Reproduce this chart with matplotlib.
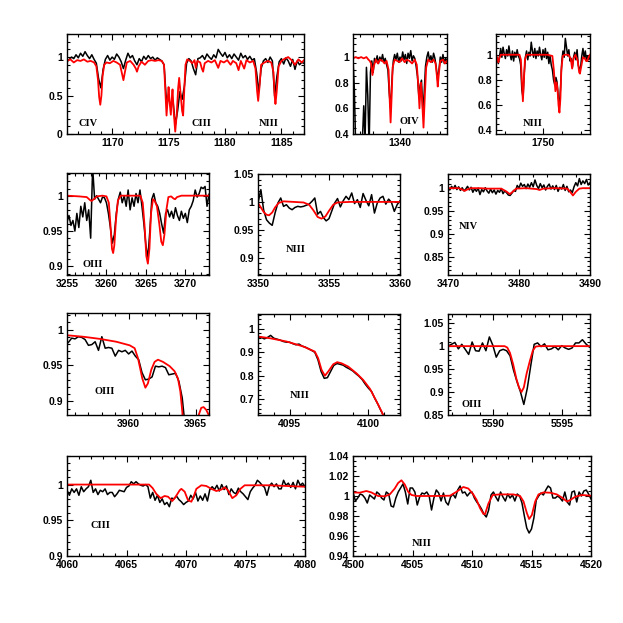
import numpy as np
import matplotlib.pyplot as plt
from matplotlib.ticker import MultipleLocator, FuncFormatter

# ---------------- observed spectra (black), evenly sampled from lo to hi ----------------
uv1175_obs = [0.94, 0.97, 1.00, 0.98, 1.03, 0.99, 1.05, 1.01, 1.07, 1.02,
              0.98, 1.03, 0.97, 0.92, 0.72, 0.60, 0.84, 0.97, 1.02, 0.96,
              1.00, 0.97, 1.04, 1.00, 0.94, 0.85, 0.96, 1.05, 0.99, 1.02,
              0.95, 0.90, 0.98, 0.94, 1.01, 0.97, 1.02, 0.98, 1.00, 0.96,
              0.99, 0.97, 0.95, 0.90, 0.45, 0.45, 0.38, 0.42, 0.12, 0.30,
              0.55, 0.45, 0.62, 0.92, 0.98, 0.95, 0.85, 0.77, 0.98, 0.99,
              1.02, 0.97, 1.04, 1.00, 0.97, 1.03, 0.99, 1.10, 1.05, 1.01,
              1.06, 0.99, 1.03, 0.98, 1.04, 1.00, 0.96, 1.05, 0.99, 1.02,
              0.97, 1.01, 0.96, 0.98, 0.80, 0.55, 0.85, 0.95, 0.98, 0.93,
              1.00, 0.95, 0.49, 0.75, 0.94, 0.98, 0.91, 0.99, 0.95, 0.88,
              0.97, 0.84, 0.95, 0.90, 0.93, 0.92]
uv1175_obs_range = (1166.0, 1187.0)

uv1340_obs = [0.99, 0.75, 0.30, 0.30, 0.30, 0.30, 0.30, 0.35, 0.62, 0.35,
              0.92, 0.70, 0.30, 0.88, 0.97, 0.88, 0.99, 0.96, 1.01, 0.95,
              1.00, 0.97, 1.02, 0.96, 0.99, 0.94, 0.90, 0.72, 0.60, 0.82,
              0.97, 1.02, 0.98, 1.03, 0.96, 1.00, 0.97, 1.04, 0.98, 1.02,
              0.95, 1.03, 0.99, 1.05, 0.97, 1.01, 0.99, 0.93, 0.85, 0.70,
              0.78, 0.82, 0.58, 0.72, 0.93, 1.00, 1.04, 0.97, 1.01, 0.96,
              1.03, 0.99, 0.92, 0.82, 0.90, 1.00, 0.96, 1.02, 0.95, 0.99,
              0.97]
uv1340_obs_range = (1336.5, 1343.5)

uv1750_obs = [1.00, 0.96, 0.93, 0.99, 1.05, 0.98, 1.06, 1.01, 0.97, 1.04,
              0.99, 1.07, 1.00, 0.96, 1.03, 0.95, 1.02, 0.98, 1.04, 0.99,
              0.97, 0.92, 0.72, 0.66, 0.85, 0.98, 1.03, 0.96, 1.02, 0.99,
              1.10, 1.03, 0.98, 1.05, 0.97, 1.03, 0.99, 1.06, 1.00, 0.96,
              1.04, 0.98, 1.05, 0.97, 1.02, 0.93, 0.99, 0.92, 0.88, 0.80,
              0.76, 0.82, 0.78, 0.66, 0.60, 0.75, 0.95, 1.03, 0.98, 1.13,
              1.06, 0.99, 1.04, 0.95, 0.97, 0.90, 0.98, 1.02, 0.96, 1.04,
              0.92, 0.88, 0.90, 0.99, 1.05, 0.97, 1.03, 0.95, 0.99, 0.96,
              0.98]
uv1750_obs_range = (1745.0, 1755.0)

w3265_obs = [0.963, 0.972, 0.958, 0.965, 0.950, 0.975, 0.955, 0.985, 0.970, 0.990,
             0.965, 0.980, 0.940, 1.040, 0.995, 1.000, 0.995, 0.990, 0.998, 0.997,
             0.990, 0.975, 0.955, 0.933, 0.945, 0.975, 0.995, 1.005, 0.990, 1.000,
             0.985, 1.008, 0.980, 0.997, 0.985, 1.003, 0.990, 1.008, 0.985, 0.960,
             0.930, 0.912, 0.950, 0.995, 1.003, 0.990, 0.985, 0.975, 0.960, 0.947,
             0.975, 0.980, 0.970, 0.978, 0.968, 0.983, 0.972, 0.965, 0.978, 0.968,
             0.975, 0.962, 0.980, 0.985, 0.993, 1.008, 0.998, 1.003, 1.012, 1.010,
             1.013, 0.985, 1.002]
w3265_obs_range = (3255.0, 3273.0)

w3355_obs = [0.998, 1.022, 0.985, 0.968, 0.962, 0.958, 0.980, 0.998, 1.007, 0.992,
             0.995, 0.989, 0.986, 0.990, 0.992, 0.991, 0.992, 0.994, 0.996, 1.001,
             1.007, 0.978, 0.983, 0.972, 0.966, 0.970, 0.984, 0.998, 1.006, 0.991,
             1.002, 1.010, 1.004, 1.016, 0.997, 1.004, 0.990, 1.015, 1.003, 0.993,
             1.013, 0.980, 0.998, 1.007, 1.010, 0.996, 1.005, 0.999, 0.983, 0.995,
             1.002]
w3355_obs_range = (3350.0, 3360.0)

w3480_obs = [1.002, 0.996, 1.004, 0.999, 1.006, 0.997, 1.003, 0.995, 1.001, 0.994,
             0.998, 1.004, 0.996, 1.002, 0.991, 0.999, 0.993, 1.000, 0.986, 0.997,
             0.992, 1.001, 0.994, 0.989, 0.998, 0.990, 0.996, 0.987, 0.995, 0.991,
             0.999, 0.988, 0.994, 0.990, 0.985, 0.984, 0.989, 0.995, 0.993, 1.006,
             1.000, 1.011, 1.004, 1.008, 0.999, 1.009, 1.002, 1.012, 1.003, 1.018,
             1.006, 0.999, 1.010, 1.001, 1.007, 0.996, 1.004, 1.009, 0.998, 1.005,
             0.997, 1.006, 0.993, 1.002, 0.998, 1.008, 0.995, 1.004, 0.992, 0.996,
             0.990, 1.003, 1.012, 1.005, 1.021, 1.008, 1.016, 1.010, 1.019, 1.007,
             1.012]
w3480_obs_range = (3470.0, 3490.0)

w3960_obs = [0.982, 0.988, 0.987, 0.990, 0.989, 0.986, 0.978, 0.979, 0.983, 0.971,
             0.990, 0.974, 0.975, 0.974, 0.963, 0.971, 0.969, 0.971, 0.966, 0.970,
             0.963, 0.958, 0.940, 0.930, 0.931, 0.934, 0.949, 0.948, 0.949, 0.947,
             0.937, 0.938, 0.939, 0.928, 0.905, 0.860, 0.830]
w3960_obs_range = (3955.5, 3964.5)

w4097_obs = [0.960, 0.964, 0.957, 0.963, 0.972, 0.960, 0.956, 0.952, 0.946, 0.943,
             0.943, 0.937, 0.932, 0.935, 0.926, 0.922, 0.915, 0.908, 0.900, 0.868,
             0.818, 0.789, 0.792, 0.818, 0.844, 0.852, 0.849, 0.845, 0.836, 0.829,
             0.821, 0.809, 0.798, 0.784, 0.764, 0.747, 0.733, 0.704, 0.679, 0.650,
             0.626]
w4097_obs_range = (4093.0, 4101.0)

w5592_obs = [1.000, 1.004, 1.008, 0.994, 1.004, 0.993, 0.982, 1.009, 0.990, 0.989,
             1.007, 0.990, 1.020, 1.002, 0.976, 0.990, 0.993, 0.990, 0.979, 0.948,
             0.923, 0.901, 0.873, 0.908, 0.957, 1.004, 1.007, 0.999, 1.005, 0.992,
             0.994, 0.999, 0.992, 1.001, 0.996, 0.993, 0.996, 1.007, 1.007, 1.014,
             1.005, 0.998]
w5592_obs_range = (5586.7, 5596.95)

w4070_obs = [0.992, 0.985, 0.994, 0.989, 0.994, 0.985, 0.997, 0.990, 0.994, 0.997,
             1.006, 0.989, 0.994, 0.986, 0.992, 0.990, 0.994, 0.986, 0.989, 0.989,
             0.983, 0.987, 0.992, 0.991, 0.990, 0.996, 0.998, 1.004, 1.001, 1.004,
             1.001, 0.999, 0.998, 1.000, 0.997, 0.981, 0.989, 0.978, 0.985, 0.975,
             0.980, 0.972, 0.975, 0.969, 0.981, 0.980, 0.984, 0.979, 0.976, 0.972,
             0.975, 0.977, 0.985, 0.980, 0.989, 0.977, 0.984, 0.978, 0.987, 0.977,
             0.993, 0.997, 0.993, 0.999, 0.991, 1.000, 0.993, 0.998, 0.986, 0.994,
             0.989, 0.987, 0.995, 0.990, 0.987, 0.983, 0.979, 0.990, 0.995, 0.999,
             1.006, 1.003, 0.999, 0.996, 0.985, 0.998, 1.002, 0.997, 1.001, 0.994,
             0.994, 1.006, 0.999, 1.002, 0.996, 1.003, 0.994, 1.006, 0.999, 1.002,
             0.997]
w4070_obs_range = (4060.0, 4080.0)

w4510_obs = [1.004, 0.995, 0.998, 1.002, 1.001, 0.998, 0.993, 1.001, 0.999, 0.997,
             1.004, 1.002, 0.998, 0.996, 1.004, 1.002, 0.990, 0.989, 0.998, 1.004,
             1.008, 1.012, 1.004, 0.992, 1.008, 1.008, 1.004, 0.991, 0.999, 1.003,
             1.002, 1.004, 1.000, 0.986, 0.998, 1.006, 1.003, 0.995, 1.003, 0.994,
             0.991, 0.999, 1.002, 0.998, 1.006, 1.010, 1.003, 1.004, 1.000, 1.003,
             1.004, 0.998, 0.994, 0.991, 0.987, 0.982, 0.979, 0.986, 1.001, 1.004,
             0.999, 0.995, 1.004, 0.999, 0.995, 1.002, 0.998, 1.001, 0.995, 1.002,
             1.000, 0.993, 0.980, 0.968, 0.963, 0.967, 0.978, 0.996, 1.000, 1.003,
             1.001, 1.006, 1.010, 1.008, 0.998, 0.998, 1.000, 0.998, 0.995, 1.004,
             0.994, 0.991, 1.004, 1.005, 0.994, 1.004, 1.000, 1.005, 1.006, 1.002,
             0.997]
w4510_obs_range = (4500.0, 4520.0)

# ---------------- model spectra (red) ----------------
uv1175_mod_x = [1166.0, 1166.3, 1166.6, 1166.9, 1167.2, 1167.5, 1167.8, 1168.1, 1168.4, 1168.6,
                1168.75, 1168.85, 1168.95, 1169.05, 1169.15, 1169.3, 1169.5, 1169.8, 1170.1, 1170.4,
                1170.7, 1170.85, 1171.0, 1171.15, 1171.3, 1171.6, 1171.9, 1172.1, 1172.2, 1172.35,
                1172.6, 1172.9, 1173.2, 1173.5, 1173.8, 1174.1, 1174.4, 1174.6, 1174.7, 1174.82,
                1174.92, 1175.0, 1175.1, 1175.2, 1175.28, 1175.35, 1175.45, 1175.59, 1175.72, 1175.85,
                1175.94, 1176.05, 1176.2, 1176.29, 1176.4, 1176.5, 1176.65, 1176.9, 1177.1, 1177.3,
                1177.41, 1177.55, 1177.8, 1177.95, 1178.06, 1178.2, 1178.5, 1178.8, 1179.1, 1179.4,
                1179.6, 1179.9, 1180.2, 1180.5, 1180.7, 1181.0, 1181.2, 1181.4, 1181.7, 1181.9,
                1182.2, 1182.5, 1182.7, 1182.85, 1182.94, 1183.05, 1183.2, 1183.5, 1183.8, 1184.1,
                1184.3, 1184.4, 1184.47, 1184.58, 1184.75, 1185.0, 1185.3, 1185.6, 1185.9, 1186.2,
                1186.5, 1186.8, 1187.0]
uv1175_mod_y = [0.95, 0.97, 0.93, 0.96, 0.95, 0.97, 0.94, 0.95, 0.93, 0.88,
                0.70, 0.48, 0.38, 0.50, 0.75, 0.90, 0.93, 0.92, 0.95, 0.93,
                0.90, 0.80, 0.70, 0.82, 0.93, 0.95, 0.90, 0.85, 0.81, 0.88,
                0.94, 0.90, 0.95, 0.96, 0.95, 0.96, 0.95, 0.90, 0.60, 0.24,
                0.45, 0.61, 0.40, 0.25, 0.45, 0.58, 0.30, 0.03, 0.25, 0.60,
                0.73, 0.55, 0.30, 0.24, 0.60, 0.90, 0.97, 0.95, 0.92, 0.96,
                0.86, 0.95, 0.93, 0.85, 0.81, 0.92, 0.95, 0.93, 0.96, 0.86,
                0.95, 0.93, 0.96, 0.90, 0.95, 0.92, 0.83, 0.95, 0.85, 0.96,
                0.93, 0.95, 0.85, 0.55, 0.43, 0.60, 0.90, 0.93, 0.95, 0.93,
                0.80, 0.50, 0.39, 0.55, 0.88, 0.95, 0.98, 1.00, 0.96, 0.90,
                0.97, 0.93, 0.96]

uv1340_mod_x = [1336.5, 1336.7, 1336.9, 1337.1, 1337.3, 1337.5, 1337.65, 1337.75, 1337.85, 1337.95,
                1338.05, 1338.2, 1338.36, 1338.5, 1338.7, 1338.85, 1339.0, 1339.15, 1339.22, 1339.3,
                1339.38, 1339.45, 1339.6, 1339.8, 1339.97, 1340.15, 1340.35, 1340.5, 1340.7, 1340.9,
                1341.1, 1341.25, 1341.35, 1341.45, 1341.55, 1341.63, 1341.75, 1341.85, 1341.95, 1342.1,
                1342.3, 1342.5, 1342.65, 1342.75, 1342.81, 1342.9, 1343.0, 1343.2, 1343.35, 1343.5]
uv1340_mod_y = [0.99, 1.00, 0.99, 1.00, 0.99, 1.00, 0.98, 0.97, 0.95, 0.86,
                0.93, 0.98, 0.95, 0.98, 0.97, 0.95, 0.97, 0.90, 0.70, 0.49,
                0.70, 0.92, 0.98, 0.97, 0.96, 0.99, 0.96, 0.98, 0.97, 0.95,
                0.98, 0.94, 0.80, 0.60, 0.80, 0.70, 0.45, 0.70, 0.92, 0.98,
                0.96, 0.98, 0.95, 0.85, 0.77, 0.88, 0.97, 0.98, 0.95, 0.97]

uv1750_mod_x = [1745.0, 1745.15, 1745.25, 1745.35, 1745.5, 1746.5, 1747.5, 1747.65, 1747.75, 1747.86,
                1747.97, 1748.08, 1748.25, 1749.5, 1750.5, 1751.0, 1751.15, 1751.32, 1751.45, 1751.55,
                1751.65, 1751.75, 1751.85, 1751.95, 1752.1, 1752.3, 1752.7, 1752.95, 1753.1, 1753.25,
                1753.45, 1753.7, 1753.85, 1753.93, 1754.05, 1754.25, 1754.45, 1754.6, 1754.7, 1754.85,
                1755.0]
uv1750_mod_y = [1.00, 0.97, 0.94, 0.97, 1.00, 1.00, 1.00, 0.96, 0.80, 0.63,
                0.80, 0.96, 1.00, 1.00, 1.00, 0.99, 0.88, 0.71, 0.78, 0.72,
                0.60, 0.54, 0.65, 0.88, 0.99, 1.00, 1.00, 0.97, 0.89, 0.97,
                1.00, 0.95, 0.86, 0.85, 0.90, 0.98, 0.97, 0.95, 0.95, 0.98,
                1.00]

w3265_mod_x = [3255.0, 3256.5, 3257.5, 3257.9, 3258.1, 3258.4, 3258.8, 3259.5, 3260.0, 3260.3,
               3260.5, 3260.7, 3260.85, 3261.0, 3261.2, 3261.45, 3261.8, 3263.0, 3264.3, 3264.6,
               3264.85, 3265.05, 3265.25, 3265.45, 3265.65, 3265.9, 3266.1, 3266.4, 3266.7, 3266.95,
               3267.15, 3267.35, 3267.6, 3267.85, 3268.2, 3268.5, 3268.7, 3268.95, 3269.5, 3271.0,
               3273.0]
w3265_mod_y = [1.000, 0.999, 0.998, 0.994, 0.9925, 0.995, 0.999, 1.000, 0.999, 0.990,
               0.960, 0.925, 0.919, 0.930, 0.965, 0.993, 1.000, 1.000, 1.000, 0.990,
               0.955, 0.915, 0.904, 0.925, 0.975, 0.995, 0.993, 0.985, 0.960, 0.935,
               0.930, 0.945, 0.980, 0.998, 0.999, 0.996, 0.995, 0.998, 1.000, 1.000,
               1.000]

w3355_mod_x = [3350.0, 3350.2, 3350.4, 3350.6, 3350.78, 3351.0, 3351.2, 3351.45, 3351.8, 3352.5,
               3353.2, 3353.6, 3353.9, 3354.2, 3354.47, 3354.75, 3355.0, 3355.3, 3355.6, 3356.5,
               3358.0, 3360.0]
w3355_mod_y = [0.998, 0.990, 0.982, 0.977, 0.976, 0.981, 0.990, 0.998, 1.001, 1.000,
               0.999, 0.995, 0.985, 0.973, 0.970, 0.974, 0.984, 0.995, 0.999, 1.000,
               1.000, 1.000]

w3480_mod_x = [3470.0, 3471.5, 3472.0, 3472.35, 3472.7, 3473.2, 3474.5, 3475.5, 3477.5, 3478.2,
               3478.7, 3479.1, 3479.6, 3481.0, 3482.5, 3482.9, 3483.4, 3485.0, 3486.8, 3487.2,
               3487.6, 3488.0, 3488.5, 3489.0, 3490.0]
w3480_mod_y = [1.000, 1.000, 0.997, 0.994, 0.997, 1.000, 1.000, 0.999, 0.999, 0.993,
               0.987, 0.992, 0.999, 1.000, 0.998, 0.996, 0.999, 1.000, 0.999, 0.992,
               0.984, 0.992, 0.999, 1.000, 1.000]

w3960_mod_x = [3955.4, 3956.59, 3957.84, 3959.08, 3960.08, 3960.45, 3960.70, 3961.02, 3961.25, 3961.44,
               3961.69, 3961.94, 3962.19, 3962.56, 3963.06, 3963.43, 3963.68, 3963.86, 3964.01, 3964.1,
               3964.3, 3964.9, 3965.1, 3965.25, 3965.42, 3965.6, 3965.8, 3966.0]
w3960_mod_y = [0.992, 0.990, 0.987, 0.983, 0.978, 0.974, 0.960, 0.932, 0.919, 0.925,
               0.944, 0.955, 0.958, 0.955, 0.949, 0.942, 0.932, 0.914, 0.885, 0.860,
               0.800, 0.800, 0.860, 0.882, 0.891, 0.892, 0.888, 0.880]

w4097_mod_x = [4093.0, 4093.74, 4094.8, 4095.86, 4096.6, 4096.81, 4097.03, 4097.24, 4097.45, 4097.77,
               4098.02, 4098.3, 4098.72, 4099.25, 4099.67, 4100.1, 4100.52, 4100.84, 4100.94, 4101.2]
w4097_mod_y = [0.967, 0.960, 0.946, 0.925, 0.903, 0.875, 0.825, 0.800, 0.818, 0.849,
               0.858, 0.853, 0.839, 0.810, 0.782, 0.744, 0.690, 0.647, 0.630, 0.580]

w5592_mod_x = [5586.7, 5590.8, 5591.0, 5591.2, 5591.43, 5591.65, 5591.85, 5592.03, 5592.2, 5592.4,
               5592.64, 5592.85, 5593.05, 5593.3, 5597.0]
w5592_mod_y = [1.000, 1.000, 0.997, 0.985, 0.960, 0.930, 0.910, 0.900, 0.910, 0.940,
               0.968, 0.990, 0.999, 1.000, 1.000]

w4070_mod_x = [4060.0, 4066.9, 4067.2, 4067.5, 4067.87, 4068.2, 4068.49, 4068.85, 4069.13, 4069.47,
               4069.61, 4069.89, 4070.17, 4070.45, 4070.64, 4070.87, 4071.29, 4071.71, 4072.13, 4072.55,
               4072.97, 4073.25, 4073.53, 4073.89, 4074.23, 4074.57, 4074.93, 4077.0, 4080.0]
w4070_mod_y = [1.000, 1.000, 0.995, 0.987, 0.981, 0.984, 0.983, 0.977, 0.983, 0.992,
               0.994, 0.990, 0.978, 0.976, 0.983, 0.994, 0.999, 0.998, 0.994, 0.991,
               0.993, 0.996, 0.992, 0.981, 0.985, 0.994, 0.999, 0.999, 0.997]

w4510_mod_x = [4500.0, 4500.56, 4501.12, 4501.54, 4502.11, 4502.67, 4503.09, 4503.51, 4503.79, 4504.07,
               4504.35, 4504.63, 4504.92, 4505.34, 4506.74, 4508.15, 4508.71, 4509.27, 4509.69, 4510.11,
               4510.39, 4510.67, 4510.96, 4511.1, 4511.38, 4511.74, 4512.36, 4513.48, 4514.04, 4514.33,
               4514.61, 4514.8, 4515.03, 4515.31, 4515.59, 4516.01, 4516.57, 4517.13, 4517.56, 4517.98,
               4518.26, 4518.68, 4519.24, 4520.0]
w4510_mod_y = [1.0036, 1.0033, 1.0050, 1.0036, 1.0000, 0.9997, 1.0016, 1.0075, 1.0130, 1.0157,
               1.0115, 1.0043, 1.0010, 1.0000, 1.0000, 1.0003, 1.0043, 1.0090, 1.0075, 1.0016,
               0.9960, 0.9880, 0.9820, 0.9820, 0.9925, 1.0010, 1.0016, 1.0016, 1.0000, 0.9945,
               0.9830, 0.9770, 0.9810, 0.9945, 1.0016, 1.0036, 1.0033, 1.0016, 0.9984, 0.9945,
               0.9960, 0.9993, 1.0010, 1.0003]

# ---------------- layout (pixel boxes: left, top, right, bottom) ----------------
W = 623.0


def box(l, t, r, b):
    return [l / W, 1 - b / W, (r - l) / W, (b - t) / W]


panels = [
    dict(obs=uv1175_obs, rng=uv1175_obs_range, mx=uv1175_mod_x, my=uv1175_mod_y,
         pos=box(67, 34, 304, 134), xlim=(1166, 1187), ylim=(0, 1.3),
         xt=(5, 1), yt=(0.5, 0.1),
         ions=[("CIV", 0.089, 0.10), ("CIII", 0.568, 0.10), ("NIII", 0.852, 0.10)]),
    dict(obs=uv1340_obs, rng=uv1340_obs_range, mx=uv1340_mod_x, my=uv1340_mod_y,
         pos=box(353, 34, 447, 134), xlim=(1336.5, 1343.5), ylim=(0.4, 1.18),
         xt=(5, 1), yt=(0.2, 0.05), ions=[("OIV", 0.596, 0.123)]),
    dict(obs=uv1750_obs, rng=uv1750_obs_range, mx=uv1750_mod_x, my=uv1750_mod_y,
         pos=box(496, 34, 590, 134), xlim=(1745, 1755), ylim=(0.37, 1.165),
         xt=(10, 2), yt=(0.2, 0.05), ions=[("NIII", 0.394, 0.10)]),
    dict(obs=w3265_obs, rng=w3265_obs_range, mx=w3265_mod_x, my=w3265_mod_y,
         pos=box(67, 173, 209, 275), xlim=(3255, 3273), ylim=(0.888, 1.032),
         xt=(5, 1), yt=(0.05, 0.01), ions=[("OIII", 0.178, 0.105)]),
    dict(obs=w3355_obs, rng=w3355_obs_range, mx=w3355_mod_x, my=w3355_mod_y,
         pos=box(258, 174, 400, 275), xlim=(3350, 3360), ylim=(0.869, 1.05),
         xt=(5, 1), yt=(0.05, 0.01), ions=[("NIII", 0.268, 0.248)]),
    dict(obs=w3480_obs, rng=w3480_obs_range, mx=w3480_mod_x, my=w3480_mod_y,
         pos=box(448, 174, 590, 275), xlim=(3470, 3490), ylim=(0.81, 1.031),
         xt=(10, 2), yt=(0.05, 0.01), ions=[("NIV", 0.143, 0.478)]),
    dict(obs=w3960_obs, rng=w3960_obs_range, mx=w3960_mod_x, my=w3960_mod_y,
         pos=box(67, 313, 209, 415), xlim=(3955.4, 3966), ylim=(0.881, 1.023),
         xt=(5, 1), yt=(0.05, 0.01), ions=[("OIII", 0.268, 0.235)]),
    dict(obs=w4097_obs, rng=w4097_obs_range, mx=w4097_mod_x, my=w4097_mod_y,
         pos=box(258, 314, 400, 415), xlim=(4093, 4102), ylim=(0.633, 1.063),
         xt=(5, 1), yt=(0.1, 0.02), ions=[("NIII", 0.291, 0.191)]),
    dict(obs=w5592_obs, rng=w5592_obs_range, mx=w5592_mod_x, my=w5592_mod_y,
         pos=box(448, 314, 590, 415), xlim=(5586.7, 5597), ylim=(0.85, 1.07),
         xt=(5, 1), yt=(0.05, 0.01), ions=[("OIII", 0.167, 0.106)]),
    dict(obs=w4070_obs, rng=w4070_obs_range, mx=w4070_mod_x, my=w4070_mod_y,
         pos=box(67, 456, 305, 556), xlim=(4060, 4080), ylim=(0.9, 1.04),
         xt=(5, 1), yt=(0.05, 0.01), ions=[("CIII", 0.142, 0.31)]),
    dict(obs=w4510_obs, rng=w4510_obs_range, mx=w4510_mod_x, my=w4510_mod_y,
         pos=box(353, 456, 591, 556), xlim=(4500, 4520), ylim=(0.94, 1.04),
         xt=(5, 1), yt=(0.02, 0.005), ions=[("NIII", 0.289, 0.127)]),
]

fmt = FuncFormatter(lambda v, p: "%g" % round(v, 4))

fig = plt.figure(figsize=(6.23, 6.23), dpi=100)
for p in panels:
    ax = fig.add_axes(p["pos"])
    wl = np.linspace(p["rng"][0], p["rng"][1], len(p["obs"]))
    ax.plot(wl, p["obs"], color="black", lw=1.1)
    ax.plot(p["mx"], p["my"], color="red", lw=1.3)
    ax.set_xlim(*p["xlim"])
    ax.set_ylim(*p["ylim"])
    ax.xaxis.set_major_locator(MultipleLocator(p["xt"][0]))
    ax.xaxis.set_minor_locator(MultipleLocator(p["xt"][1]))
    ax.yaxis.set_major_locator(MultipleLocator(p["yt"][0]))
    ax.yaxis.set_minor_locator(MultipleLocator(p["yt"][1]))
    ax.xaxis.set_major_formatter(fmt)
    ax.yaxis.set_major_formatter(fmt)
    ax.tick_params(which="both", direction="in", top=True, right=True, width=0.8)
    ax.tick_params(which="major", length=4, pad=3,
                   labelsize=7.5)
    ax.tick_params(which="minor", length=2)
    for lab in ax.get_xticklabels() + ax.get_yticklabels():
        lab.set_fontfamily("Liberation Sans")
        lab.set_fontweight("bold")
    for s in ax.spines.values():
        s.set_linewidth(1.0)
    for name, fx, fy in p["ions"]:
        ax.text(fx, fy, name, transform=ax.transAxes, ha="center", va="center",
                fontsize=7.5, family="Liberation Serif", fontweight="bold")

fig.savefig("out.png", dpi=100)
